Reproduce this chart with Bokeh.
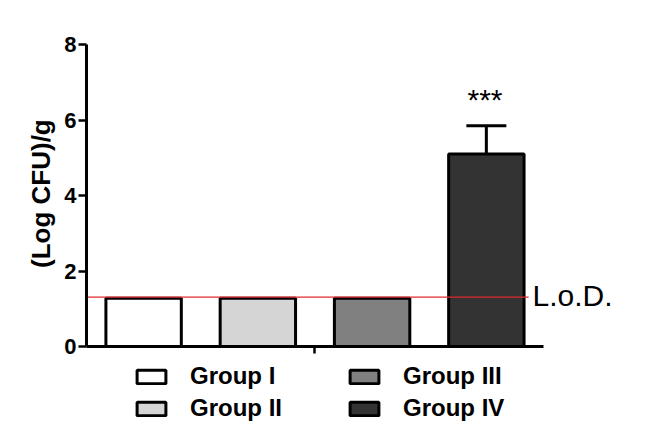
import math
from bokeh.plotting import figure
from bokeh.models import (ColumnDataSource, Range1d, FixedTicker, Legend, LegendItem, Label)
from bokeh.core.properties import value
from bokeh.embed import file_html
from bokeh.resources import INLINE

groups = ["Group I", "Group II", "Group III", "Group IV"]
means = [1.28, 1.28, 1.28, 5.10]
errors = [0.0, 0.0, 0.0, 0.75]
colors = ["#ffffff", "#d5d5d5", "#808080", "#333333"]
lod = 1.31
lod_label = "L.o.D."
sig_label = "***"
y_label = "(Log CFU)/g"
y_ticks = [0, 2, 4, 6, 8]

xs = list(range(len(groups)))
src = ColumnDataSource(dict(x=xs, top=means, color=colors, name=groups))

# frame covers the whole canvas; axes are fixed inside it so nothing is clipped
p = figure(width=637, height=430, output_backend="svg", toolbar_location=None,
           x_range=Range1d(-1.2527, 4.323), y_range=Range1d(-2.225, 9.1656),
           min_border_left=0, min_border_right=0, min_border_top=0, min_border_bottom=0)
p.outline_line_color = None
p.grid.grid_line_color = None
p.background_fill_color = "white"
p.border_fill_color = "white"

bars = p.vbar(x="x", top="top", width=0.66, bottom=0, fill_color="color",
              line_color="black", line_width=3, source=src)

# error bars (upper only)
ex, ey0, ey1, cx0, cx1 = [], [], [], [], []
for i, (m, e) in enumerate(zip(means, errors)):
    if e > 0:
        ex.append(i); ey0.append(m); ey1.append(m + e)
        cx0.append(i - 0.175); cx1.append(i + 0.175)
p.segment(x0=ex, y0=ey0, x1=ex, y1=ey1, line_color="black", line_width=3)
p.segment(x0=cx0, y0=ey1, x1=cx1, y1=ey1, line_color="black", line_width=3)

# significance stars
for i, (m, e) in enumerate(zip(means, errors)):
    if e > 0:
        p.text(x=[i - 0.012], y=[m + e + 0.68], text=[sig_label], text_align="center",
               text_baseline="middle", text_font=value("Liberation Sans"),
               text_font_size="30px", text_color="black")

# limit of detection
p.segment(x0=[-0.5], y0=[lod], x1=[3.37], y1=[lod], line_color="#e02b2b", line_width=1.2)
p.add_layout(Label(x=3.404, y=lod, y_offset=2, text=lod_label, text_baseline="middle",
                   text_font="Liberation Sans", text_font_size="30px", text_color="black"))

# y axis title
p.add_layout(Label(x=40, x_units="screen", y=4.05, text=y_label, angle=math.pi / 2,
                   text_align="center", text_baseline="middle",
                   text_font="Liberation Sans", text_font_style="bold",
                   text_font_size="26px", text_color="black"))

# axes
p.yaxis.ticker = FixedTicker(ticks=y_ticks)
p.yaxis.fixed_location = -0.5
p.yaxis.bounds = (0, 8)
p.yaxis.major_label_text_font = "Liberation Sans"
p.yaxis.major_label_text_font_style = "bold"
p.yaxis.major_label_text_font_size = "22px"
p.yaxis.major_label_text_color = "black"
p.yaxis.major_label_standoff = 2
p.yaxis.major_tick_in = 0
p.yaxis.major_tick_out = 8
p.yaxis.minor_tick_line_color = None

p.xaxis.ticker = FixedTicker(ticks=[1.5])
p.xaxis.fixed_location = 0
p.xaxis.bounds = (-0.5, 3.5)
p.xaxis.major_label_overrides = {1.5: ""}
p.xaxis.major_tick_in = 0
p.xaxis.major_tick_out = 7
p.xaxis.minor_tick_line_color = None

for ax in (p.xaxis, p.yaxis):
    ax.axis_line_width = 3
    ax.major_tick_line_width = 2.5
    ax.axis_line_color = "black"
    ax.major_tick_line_color = "black"

def make_legend(idx, loc):
    items = [LegendItem(label=groups[i], renderers=[bars], index=i) for i in idx]
    lg = Legend(items=items, location=loc, orientation="vertical",
                glyph_width=36, glyph_height=17, label_standoff=21,
                label_height=28, spacing=4, padding=0, margin=0,
                border_line_alpha=0, background_fill_alpha=0,
                label_text_font="Liberation Sans", label_text_font_style="bold",
                label_text_font_size="24px", label_text_color="black")
    return lg

p.add_layout(make_legend([0, 1], (133, 8)), "center")
p.add_layout(make_legend([2, 3], (346, 8)), "center")

open("out.html", "w").write(file_html(p, INLINE))
